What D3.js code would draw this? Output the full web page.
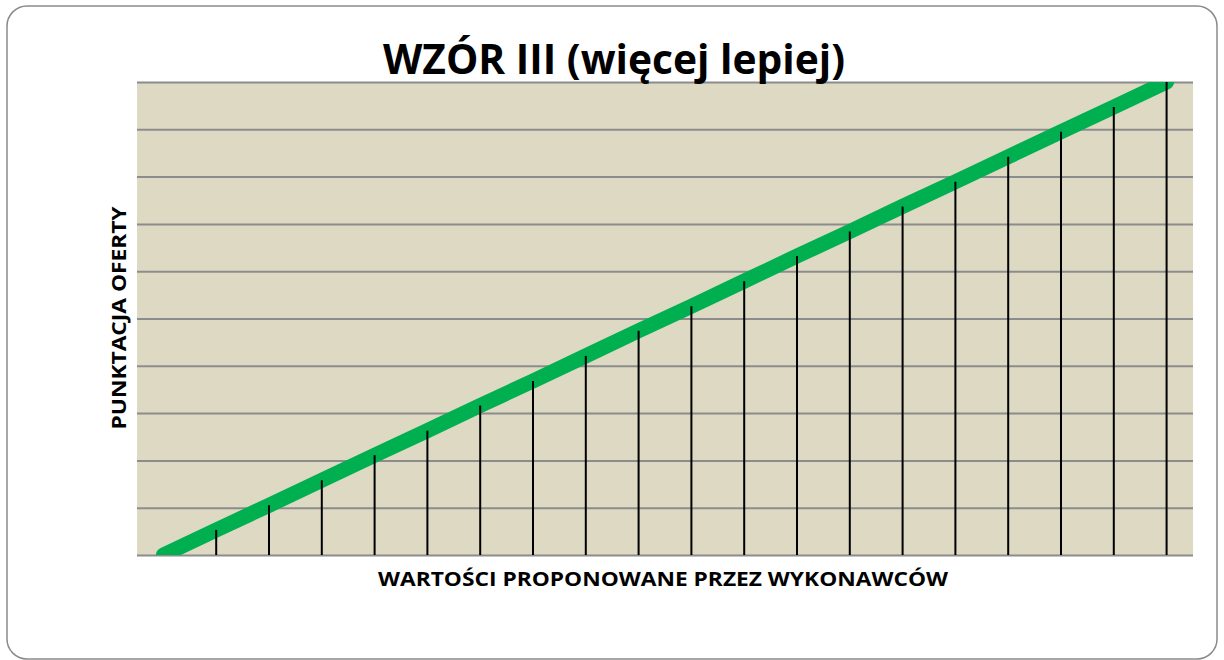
<!DOCTYPE html>
<html>
<head>
<meta charset="utf-8">
<script src="https://cdn.jsdelivr.net/npm/d3@7"></script>
<style>
body { margin: 0; background: #fff; }
text { font-family: "Open Sans", "Liberation Sans", sans-serif; font-weight: bold; fill: #000; }
</style>
</head>
<body>
<svg width="1224" height="660"></svg>
<script>
// oferty (kolejne wartości) i odpowiadające im punkty
var oferty = [1, 2, 3, 4, 5, 6, 7, 8, 9, 10, 11, 12, 13, 14, 15, 16, 17, 18, 19, 20];
var punkty = [0, 5.3, 10.5, 15.8, 21.1, 26.3, 31.6, 36.8, 42.1, 47.4,
              52.6, 57.9, 63.2, 68.4, 73.7, 78.9, 84.2, 89.5, 94.7, 100];
var siatka = [0, 10, 20, 30, 40, 50, 60, 70, 80, 90, 100];

var data = oferty.map(function(d, i) { return { x: d, y: punkty[i] }; });

var svg = d3.select("svg");

// ramka
svg.append("rect")
  .attr("x", 7).attr("y", 6)
  .attr("width", 1210).attr("height", 653)
  .attr("rx", 20).attr("ry", 20)
  .attr("fill", "#fff")
  .attr("stroke", "#8a8a8a")
  .attr("stroke-width", 1.5);

var pLeft = 137, pRight = 1193, pTop = 82, pBottom = 555;

var xScale = d3.scalePoint().domain(oferty).range([pLeft, pRight]).padding(0.5);
var yScale = d3.scaleLinear().domain([0, 100]).range([pBottom, pTop]);

svg.append("defs").append("clipPath").attr("id", "plot")
  .append("rect")
  .attr("x", pLeft).attr("y", pTop)
  .attr("width", pRight - pLeft).attr("height", pBottom - pTop);

svg.append("rect")
  .attr("x", pLeft).attr("y", pTop)
  .attr("width", pRight - pLeft).attr("height", pBottom - pTop)
  .attr("fill", "#ddd9c3");

// linie siatki
var grid = svg.append("g")
  .attr("transform", "translate(" + pLeft + ",0)")
  .call(d3.axisLeft(yScale).tickValues(siatka).tickSize(-(pRight - pLeft)).tickFormat(""));
grid.select(".domain").remove();
grid.selectAll(".tick line").attr("stroke", "#8c8c8c").attr("stroke-width", 2);

var line = d3.line()
  .x(function(d) { return xScale(d.x); })
  .y(function(d) { return yScale(d.y); });

svg.append("path")
  .datum(data)
  .attr("clip-path", "url(#plot)")
  .attr("d", line)
  .attr("fill", "none")
  .attr("stroke", "#00b050")
  .attr("stroke-width", 15)
  .attr("stroke-linecap", "round");

// linie pionowe (nad linią punktacji)
svg.selectAll(".drop")
  .data(data.filter(function(d) { return d.y > 0; }))
  .enter()
  .append("line")
  .attr("class", "drop")
  .attr("x1", function(d) { return xScale(d.x); })
  .attr("x2", function(d) { return xScale(d.x); })
  .attr("y1", pBottom)
  .attr("y2", function(d) { return yScale(d.y); })
  .attr("stroke", "#000")
  .attr("stroke-width", 2);

svg.append("text")
  .attr("x", 614).attr("y", 74)
  .attr("text-anchor", "middle")
  .attr("font-size", 41)
  .attr("textLength", 462)
  .attr("lengthAdjust", "spacingAndGlyphs")
  .text("WZÓR III (więcej lepiej)");

svg.append("text")
  .attr("x", 663).attr("y", 586)
  .attr("text-anchor", "middle")
  .attr("font-size", 20)
  .attr("textLength", 570)
  .attr("lengthAdjust", "spacingAndGlyphs")
  .text("WARTOŚCI PROPONOWANE PRZEZ WYKONAWCÓW");

svg.append("text")
  .attr("transform", "translate(126,318) rotate(-90)")
  .attr("text-anchor", "middle")
  .attr("font-size", 20)
  .attr("textLength", 223)
  .attr("lengthAdjust", "spacingAndGlyphs")
  .text("PUNKTACJA OFERTY");
</script>
</body>
</html>
